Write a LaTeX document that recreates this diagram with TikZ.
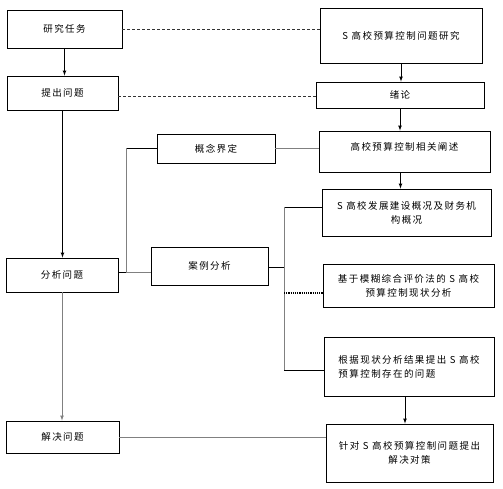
\documentclass[tikz,border=0pt]{standalone}
\usepackage{fontspec}
\newfontfamily\cjk[LetterSpace=15]{Noto Sans CJK SC}
\usetikzlibrary{positioning}

\begin{document}
\begin{tikzpicture}[x=1pt, y=-1pt, font=\cjk\fontsize{9.5pt}{14pt}\selectfont,
    stagebox/.style={draw, line width=.9pt, inner sep=2pt, align=center},
    link/.style={draw=gray, line width=.6pt},
    dashlink/.style={draw=black!80, line width=.6pt, densely dashed},
    arr/.style={-latex, line width=.7pt}]
    \useasboundingbox (0,0) rectangle (503,489);

    % left column
    \node[stagebox, minimum width=115, minimum height=38] (task) at (64.5,29) {研究任务};
    \node[stagebox, minimum width=111, minimum height=34] (raise) at (62.5,93) {提出问题};
    \node[stagebox, minimum width=112, minimum height=34] (analyze) at (62,275) {分析问题};
    \node[stagebox, minimum width=113, minimum height=32] (solve) at (62.5,437) {解决问题};

    % middle column
    \node[stagebox, minimum width=118, minimum height=29] (concept) at (216,148.5) {概念界定};
    \node[stagebox, minimum width=117, minimum height=38] (case) at (209.5,266) {案例分析};

    % right column
    \node[stagebox, minimum width=162, minimum height=55] (topic) at (401,35.5) {S 高校预算控制问题研究};
    \node[stagebox, minimum width=168, minimum height=26] (intro) at (400,95) {绪论};
    \node[stagebox, minimum width=171, minimum height=41, text depth=10pt] (review) at (404.5,151.5) {高校预算控制相关阐述};
    \node[stagebox, minimum width=169, minimum height=47] (devel) at (406.5,212.5) {S 高校发展建设概况及财务机\\构概况};
    \node[stagebox, minimum width=171, minimum height=43] (eval) at (408.5,285.5) {基于模糊综合评价法的 S 高校\\预算控制现状分析};
    \node[stagebox, minimum width=170, minimum height=59, align=left] (problem) at (409,366.5) {根据现状分析结果提出 S 高校\\预算控制存在的问题};
    \node[stagebox, minimum width=167, minimum height=58] (measure) at (409.5,453) {针对 S 高校预算控制问题提出\\解决对策};

    \coordinate (jl) at (126,272);
    \coordinate (jr) at (284,267);
    \coordinate (raisein) at ([yshift=-3pt]raise.east);
    \coordinate (develin) at ([yshift=5.5pt]devel.west);
    \coordinate (evalin) at ([yshift=-7.5pt]eval.west);
    \coordinate (probin) at ([yshift=-3.5pt]problem.west);

    % arrows
    \draw[arr] (task.south) -- (task.south |- raise.north);
    \draw[arr] (raise.south) -- (raise.south |- analyze.north);
    \draw[arr, draw=gray] (analyze.south) -- (analyze.south |- solve.north);
    \draw[arr] (topic.south) -- (topic.south |- intro.north);
    \draw[arr] (intro.south) -- (intro.south |- review.north);
    \draw[arr] ([xshift=-4pt]review.south) -- ([xshift=-4pt]review.south |- devel.north);
    \draw[arr] ([xshift=-4pt]problem.south) -- ([xshift=-4pt]problem.south |- measure.north);

    % links
    \draw[dashlink] (task.east) -- (task.east -| topic.west);
    \draw[dashlink] (raisein) -- (raisein -| intro.west);
    \draw[link] (concept.east) -- (concept.east -| review.west);
    \draw[line width=.9pt] (concept.west) -- (concept.west -| jl);
    \draw[link] (concept.west -| jl) -- (jl);
    \draw[line width=.9pt] (jl) -- (jl -| analyze.east);
    \draw[link] (jl) -- (jl -| case.west);
    \draw[line width=.6pt] (case.east |- jr) -- (jr);
    \draw[line width=.9pt] (develin) -- (develin -| jr);
    \draw[link] (develin -| jr) -- (probin -| jr);
    \draw[line width=.6pt] (probin -| jr) -- (probin);
    \draw[line width=1.2pt, densely dotted] (evalin -| jr) -- (evalin);
    \draw[link] (solve.east) -- (solve.east -| measure.west);
\end{tikzpicture}
\end{document}
